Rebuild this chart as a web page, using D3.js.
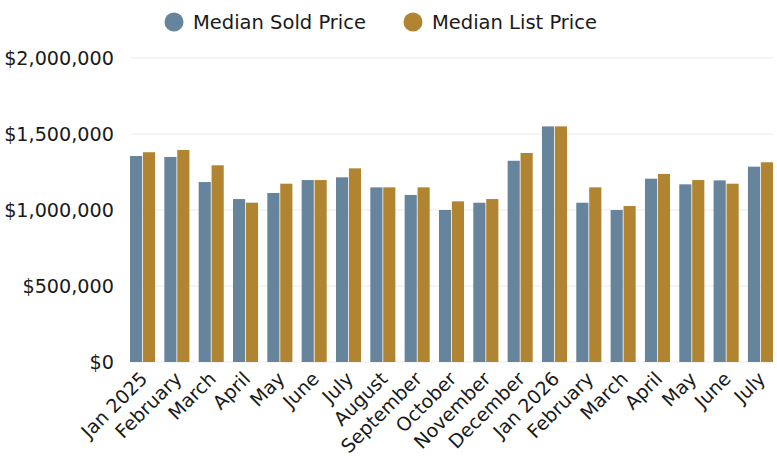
<!DOCTYPE html>
<html>
<head>
<meta charset="utf-8">
<script src="https://cdn.jsdelivr.net/npm/d3@7"></script>
<style>
  body { margin: 0; background: #fff; }
  text { font-family: "DejaVu Sans", sans-serif; fill: #1a1a1a; }
</style>
</head>
<body>
<div id="chart"></div>
<script>
let months = ["Jan 2025", "February", "March", "April", "May", "June", "July", "August",
    "September", "October", "November", "December", "Jan 2026", "February", "March",
    "April", "May", "June", "July"];

let soldPrice = [1355000, 1349000, 1184000, 1072000, 1112000, 1197000, 1215000, 1149000,
    1099000, 1000000, 1048000, 1324000, 1550000, 1048000, 1000000, 1206000, 1169000, 1195000, 1285000];

let listPrice = [1380000, 1395000, 1294000, 1048000, 1173000, 1197000, 1274000, 1149000,
    1149000, 1057000, 1072000, 1375000, 1550000, 1149000, 1026000, 1237000, 1197000, 1173000, 1314000];

let seriesNames = ["Median Sold Price", "Median List Price"];
let yTicks = [0, 500000, 1000000, 1500000, 2000000];

let colors = ["#66859c", "#b08431"];

let width = 777, height = 468;
let margin = {top: 58, right: 4, bottom: 106, left: 130};

let svg = d3.select("#chart").append("svg")
    .attr("width", width)
    .attr("height", height);

// index keys so the repeated month names stay separate bands
let keys = months.map((m, i) => i);

let x = d3.scaleBand()
    .domain(keys)
    .range([margin.left, width - margin.right])
    .paddingInner(0.27)
    .paddingOuter(0);

let x1 = d3.scaleBand()
    .domain([0, 1])
    .range([0, x.bandwidth()])
    .paddingInner(0.06);

let y = d3.scaleLinear()
    .domain([0, 2000000])
    .range([height - margin.bottom, margin.top]);

// gridlines
svg.append("g")
    .selectAll("line")
    .data(yTicks)
    .join("line")
    .attr("x1", margin.left)
    .attr("x2", width - margin.right)
    .attr("y1", d => y(d))
    .attr("y2", d => y(d))
    .attr("stroke", "#ececec")
    .attr("stroke-width", 1.2);

// y axis labels
let yAxis = d3.axisLeft(y)
    .tickValues(yTicks)
    .tickSize(0)
    .tickPadding(16)
    .tickFormat(d => "$" + d3.format(",")(d));

svg.append("g")
    .attr("transform", "translate(" + margin.left + ",0)")
    .call(yAxis)
    .call(g => g.select(".domain").remove())
    .selectAll("text")
    .style("font-size", "19.2px")
    .attr("fill", "#1a1a1a");

// bars
let groups = svg.append("g")
    .selectAll("g")
    .data(keys)
    .join("g")
    .attr("transform", d => "translate(" + x(d) + ",0)");

groups.selectAll("rect")
    .data(i => [soldPrice[i], listPrice[i]].map((v, s) => ({s: s, v: v})))
    .join("rect")
    .attr("x", d => x1(d.s))
    .attr("width", x1.bandwidth())
    .attr("y", d => y(d.v))
    .attr("height", d => y(0) - y(d.v))
    .attr("fill", d => colors[d.s]);

// x labels, rotated
svg.append("g")
    .selectAll("text")
    .data(keys)
    .join("text")
    .attr("transform", d => "translate(" + (x(d) + x.bandwidth() / 2 + 6) + "," + (y(0) + 18) + ") rotate(-45)")
    .attr("text-anchor", "end")
    .style("font-size", "19px")
    .text(d => months[d]);

// legend
let legend = svg.append("g")
    .selectAll("g")
    .data(seriesNames)
    .join("g")
    .attr("transform", (d, i) => "translate(" + (i === 0 ? 174 : 413) + ",22)");

legend.append("circle")
    .attr("r", 9.5)
    .attr("fill", (d, i) => colors[i]);

legend.append("text")
    .attr("x", 19)
    .attr("dy", "0.35em")
    .style("font-size", "19.5px")
    .text(d => d);
</script>
</body>
</html>
